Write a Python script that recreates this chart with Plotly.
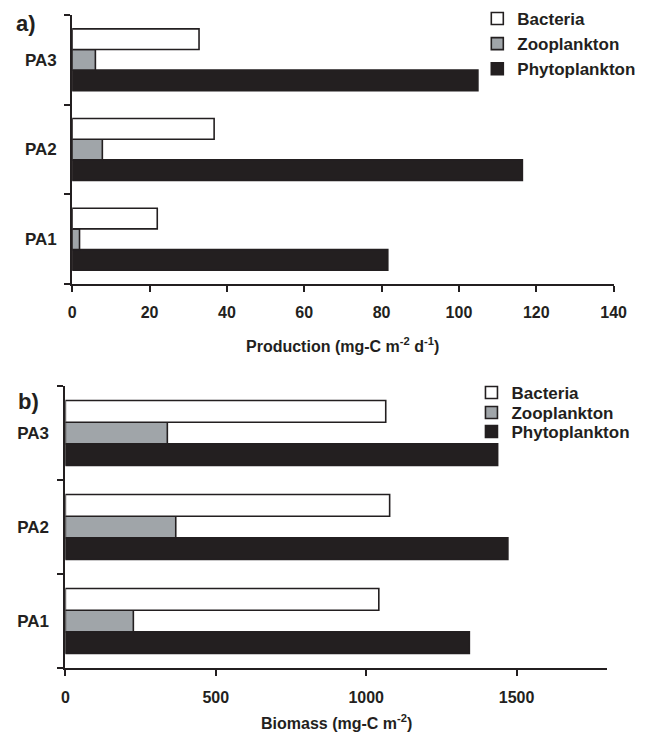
import plotly.graph_objects as go

sites = ["PA1", "PA2", "PA3"]

prod_bacteria = [22, 36.7, 32.8]
prod_zooplankton = [1.9, 7.8, 6.0]
prod_phytoplankton = [81.6, 116.4, 104.9]

bio_bacteria = [1042, 1078, 1065]
bio_zooplankton = [226, 367, 339]
bio_phytoplankton = [1343, 1471, 1437]

prod_ticks = [0, 20, 40, 60, 80, 100, 120, 140]
bio_ticks = [0, 500, 1000, 1500]

series_names = ["Bacteria", "Zooplankton", "Phytoplankton"]
fill_colors = ["#ffffff", "#a0a5a9", "#231f20"]
edge = "#231f20"
FONT = "Liberation Sans"

W, H = 651, 736
fig = go.Figure()

top = [prod_bacteria, prod_zooplankton, prod_phytoplankton]
bot = [bio_bacteria, bio_zooplankton, bio_phytoplankton]
bot_legends = ["legend2", "legend3", "legend4"]

# add in reverse order so Bacteria is the top bar of each group
for i in [2, 1, 0]:
    fig.add_trace(go.Bar(
        y=sites, x=top[i], orientation="h", name=series_names[i],
        marker=dict(color=fill_colors[i], line=dict(color=edge, width=1.6)),
        xaxis="x", yaxis="y", legend="legend",
    ))
for i in [2, 1, 0]:
    fig.add_trace(go.Bar(
        y=sites, x=bot[i], orientation="h", name=series_names[i],
        marker=dict(color=fill_colors[i], line=dict(color=edge, width=1.6)),
        xaxis="x2", yaxis="y2", legend=bot_legends[i],
    ))

def px(v):
    return v / W

def py(v):
    return 1 - v / H

def axis_common(size):
    return dict(
        showline=True, linecolor=edge, linewidth=2, ticks="outside",
        tickcolor=edge, tickwidth=2, ticklen=6, showgrid=False, zeroline=False,
        tickfont=dict(family=FONT, size=size, color="#231f20", weight="bold"),
    )

legfont = dict(family=FONT, size=17, color="#231f20", weight="bold")

def single_legend(center_y):
    return dict(x=px(480), y=py(center_y - 18), xanchor="left", yanchor="top",
                bgcolor="rgba(0,0,0,0)", font=legfont, itemwidth=30)

fig.update_layout(
    width=W, height=H, margin=dict(l=0, r=0, t=0, b=0),
    paper_bgcolor="white", plot_bgcolor="white",
    barmode="group", bargap=0.31, bargroupgap=0,
    font=dict(family=FONT, color="#231f20"),
    xaxis=dict(domain=[px(70), px(626)], range=[0, 140], tickvals=prod_ticks,
               anchor="y", ticklabelstandoff=7, **axis_common(16)),
    yaxis=dict(domain=[py(284), py(15)], range=[-0.5, 2.5], tickson="boundaries",
               anchor="x", ticklabelstandoff=10, **axis_common(17)),
    xaxis2=dict(domain=[px(63), px(619)], range=[0, 1800], tickvals=bio_ticks,
                anchor="y2", ticklabelstandoff=8, **axis_common(16)),
    yaxis2=dict(domain=[py(668), py(386)], range=[-0.5, 2.5], tickson="boundaries",
                anchor="x2", ticklabelstandoff=11, **axis_common(17)),
    legend=dict(x=px(486), y=py(1), xanchor="left", yanchor="top",
                traceorder="reversed", bgcolor="rgba(0,0,0,0)",
                font=legfont, itemwidth=30),
    legend2=single_legend(393),
    legend3=single_legend(413),
    legend4=single_legend(432),
    showlegend=True,
)

fig.add_annotation(text="<b>a)</b>", x=px(10), y=py(23), xref="paper", yref="paper",
                   xanchor="left", yanchor="middle", showarrow=False,
                   font=dict(family=FONT, size=22, color="#231f20"))
fig.add_annotation(text="<b>b)</b>", x=px(12), y=py(401), xref="paper", yref="paper",
                   xanchor="left", yanchor="middle", showarrow=False,
                   font=dict(family=FONT, size=22, color="#231f20"))
fig.add_annotation(text="<b>Production (mg-C m<sup>-2</sup> d<sup>-1</sup>)</b>",
                   x=px(348), y=py(345), xref="paper", yref="paper",
                   xanchor="center", yanchor="middle", showarrow=False,
                   font=dict(family=FONT, size=16, color="#231f20"))
fig.add_annotation(text="<b>Biomass (mg-C m<sup>-2</sup>)</b>",
                   x=px(341), y=py(722), xref="paper", yref="paper",
                   xanchor="center", yanchor="middle", showarrow=False,
                   font=dict(family=FONT, size=16, color="#231f20"))

fig.write_html("out.html", config={"displayModeBar": False},
               post_script="document.body.style.margin='0';document.body.style.overflow='hidden';")
